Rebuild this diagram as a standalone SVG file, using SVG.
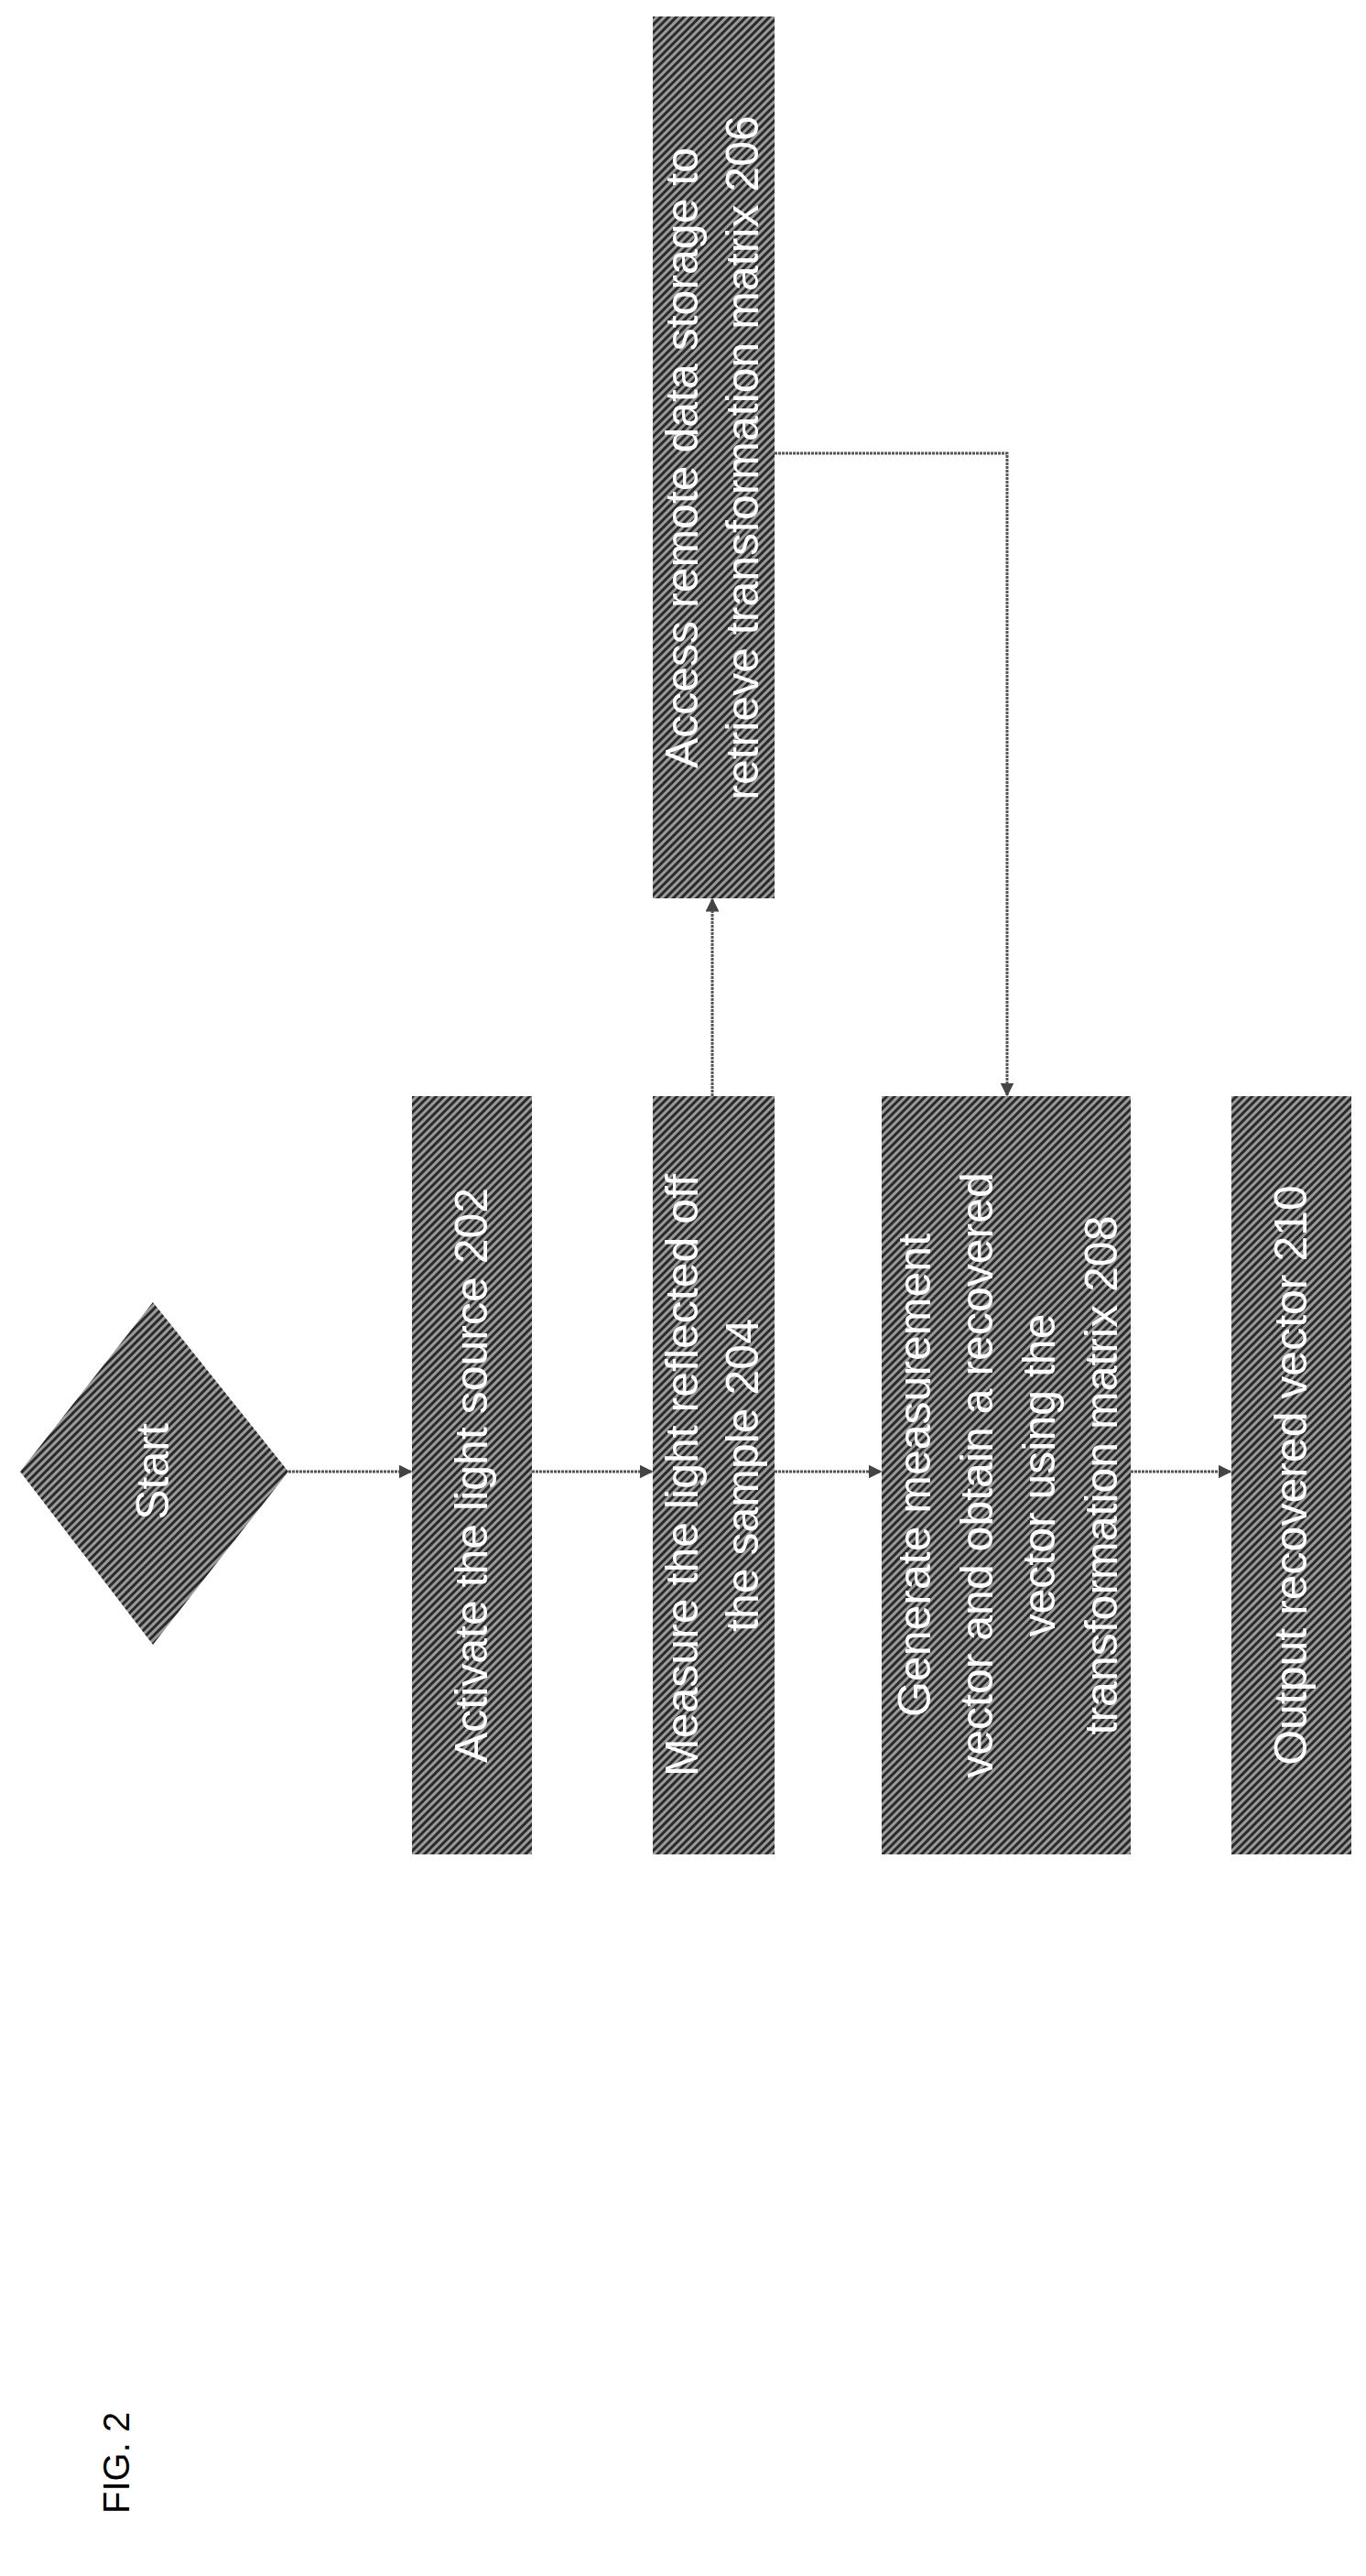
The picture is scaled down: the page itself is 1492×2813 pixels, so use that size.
<svg xmlns="http://www.w3.org/2000/svg" width="1492" height="2813" viewBox="0 0 1492 2813">
<defs>
<pattern id="hatch" width="6" height="6" patternUnits="userSpaceOnUse" patternTransform="rotate(45)">
<rect width="6" height="6" fill="#9a9a9a"/>
<rect width="3" height="6" fill="#2a2a2a"/>
</pattern>
<marker id="arr" viewBox="0 0 10 10" refX="9" refY="5" markerWidth="5" markerHeight="5" orient="auto">
<path d="M0,0 L10,5 L0,10 z" fill="#444"/>
</marker>
</defs>
<style>
.box{fill:url(#hatch);}
.t{font-family:"Liberation Sans",Arial,sans-serif;font-size:50px;fill:#fff;text-anchor:middle;}
.c{fill:none;stroke:#555;stroke-width:3;stroke-dasharray:3 1;marker-end:url(#arr);}
.fig{font-family:"Liberation Sans",Arial,sans-serif;font-size:40px;fill:#000;}
</style>
<g id="start">
<polygon class="box" points="167,1422 315,1607 167,1796 22,1607"/>
<text class="t" x="167" y="1624" transform="rotate(-90 167 1607)">Start</text>
</g>
<g id="n202">
<rect class="box" x="450" y="1197" width="131" height="828"/>
<text class="t" x="515" y="1628" transform="rotate(-90 515 1611)">Activate the light source 202</text>
</g>
<g id="n204">
<rect class="box" x="713" y="1197" width="133" height="828"/>
<text class="t" transform="rotate(-90 779 1611)"><tspan x="779" y="1594">Measure the light reflected off</tspan><tspan x="779" dy="66">the sample 204</tspan></text>
</g>
<g id="n206">
<rect class="box" x="713" y="18" width="133" height="963"/>
<text class="t" transform="rotate(-90 779 500)"><tspan x="779" y="483">Access remote data storage to</tspan><tspan x="779" dy="66">retrieve transformation matrix 206</tspan></text>
</g>
<g id="n208">
<rect class="box" x="963" y="1197" width="272" height="828"/>
<text class="t" transform="rotate(-90 1099 1611)"><tspan x="1099" y="1528">Generate measurement</tspan><tspan x="1099" dy="68">vector and obtain a recovered</tspan><tspan x="1099" dy="68">vector using the</tspan><tspan x="1099" dy="68">transformation matrix  208</tspan></text>
</g>
<g id="n210">
<rect class="box" x="1345" y="1197" width="131" height="828"/>
<text class="t" x="1410" y="1628" transform="rotate(-90 1410 1611)">Output recovered vector 210</text>
</g>
<g id="connectors">
<line class="c" x1="315" y1="1607" x2="449" y2="1607"/>
<line class="c" x1="581" y1="1607" x2="712" y2="1607"/>
<line class="c" x1="846" y1="1607" x2="962" y2="1607"/>
<line class="c" x1="1235" y1="1607" x2="1344" y2="1607"/>
<line class="c" x1="778" y1="1197" x2="778" y2="982"/>
<polyline class="c" points="846,495 1100,495 1100,1196"/>
</g>
<text class="fig" x="126" y="2760" transform="rotate(-90 126 2745)">FIG. 2</text>
</svg>
